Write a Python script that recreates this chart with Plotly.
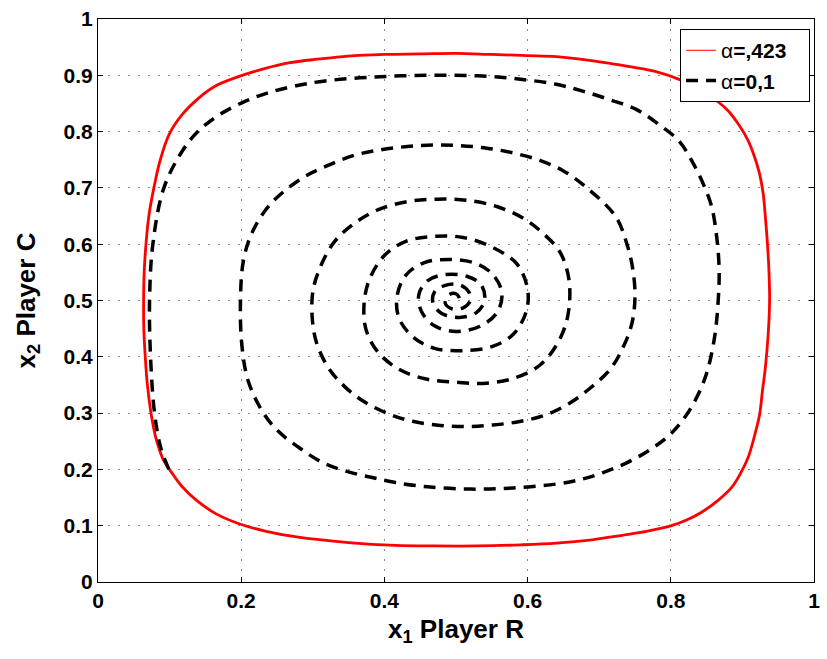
import plotly.graph_objects as go

# Red closed orbit (alpha = ,423)
red_x = [0.0637, 0.0645, 0.067, 0.071, 0.078, 0.087, 0.0997, 0.118, 0.141, 0.164, 0.197, 0.230, 0.266, 0.310,
         0.349, 0.400, 0.450, 0.500, 0.550, 0.600, 0.640, 0.710, 0.778, 0.815, 0.848, 0.866, 0.880, 0.895,
         0.908, 0.917, 0.924, 0.929, 0.932, 0.935, 0.937, 0.938, 0.936, 0.932, 0.928, 0.924, 0.917, 0.908,
         0.897, 0.885, 0.866, 0.843, 0.822, 0.801, 0.766, 0.732, 0.690, 0.640, 0.590, 0.530, 0.470, 0.4155,
         0.350, 0.277, 0.235, 0.198, 0.165, 0.1385, 0.117, 0.1015, 0.092, 0.085, 0.080, 0.074, 0.069, 0.066,
         0.064, 0.0637]
red_y = [0.500, 0.550, 0.600, 0.650, 0.700, 0.750, 0.796, 0.831, 0.860, 0.881, 0.898, 0.911, 0.922, 0.929,
         0.934, 0.937, 0.938, 0.939, 0.937, 0.935, 0.933, 0.922, 0.907, 0.891, 0.869, 0.853, 0.837, 0.812,
         0.784, 0.755, 0.725, 0.690, 0.650, 0.600, 0.555, 0.500, 0.440, 0.380, 0.340, 0.297, 0.260, 0.221,
         0.192, 0.168, 0.145, 0.124, 0.110, 0.100, 0.090, 0.083, 0.075, 0.069, 0.066, 0.064, 0.064, 0.065,
         0.070, 0.080, 0.090, 0.103, 0.121, 0.144, 0.170, 0.197, 0.215, 0.238, 0.260, 0.300, 0.350, 0.400,
         0.450, 0.500]

# Black dashed spiral (alpha = 0,1)
spiral_x = [0.099, 0.0877, 0.079, 0.0734, 0.072, 0.0766, 0.092, 0.118, 0.141, 0.171, 0.206, 0.238, 0.275, 0.317,
            0.386, 0.46, 0.53, 0.59, 0.640, 0.677, 0.714, 0.751, 0.783, 0.811, 0.829, 0.845, 0.857, 0.864,
            0.8675, 0.866, 0.8615, 0.852, 0.840, 0.822, 0.799, 0.771, 0.739, 0.7045, 0.677, 0.640, 0.58,
            0.52, 0.46, 0.4155, 0.383, 0.3486, 0.314, 0.2816, 0.2515, 0.231, 0.210, 0.201, 0.199, 0.203,
            0.215, 0.24, 0.284, 0.321, 0.358, 0.395, 0.432, 0.469, 0.506, 0.543, 0.580, 0.617, 0.649, 0.681,
            0.723, 0.739, 0.747, 0.750, 0.746, 0.7345, 0.716, 0.688, 0.658, 0.626, 0.589, 0.552, 0.515, 0.478,
            0.441, 0.409, 0.372, 0.3445, 0.321, 0.305, 0.299, 0.3006, 0.312, 0.3306, 0.358, 0.3906, 0.432,
            0.4737, 0.515, 0.557, 0.594, 0.621, 0.6445, 0.656, 0.659, 0.654, 0.640, 0.617, 0.580, 0.538,
            0.50, 0.46, 0.42, 0.39, 0.374, 0.372, 0.38, 0.40, 0.43, 0.47, 0.51, 0.55, 0.585, 0.60, 0.598,
            0.58, 0.55, 0.51, 0.47, 0.44, 0.42, 0.418, 0.43, 0.455, 0.49, 0.525, 0.55, 0.564, 0.558, 0.535,
            0.50, 0.47, 0.452, 0.448, 0.46, 0.485, 0.515, 0.535, 0.54, 0.528, 0.505, 0.48, 0.468, 0.47,
            0.485, 0.505, 0.518, 0.52, 0.51, 0.495, 0.485, 0.49, 0.5, 0.505, 0.5]
spiral_y = [0.200, 0.238, 0.30, 0.40, 0.50, 0.60, 0.70, 0.766, 0.802, 0.831, 0.854, 0.869, 0.881, 0.890,
            0.897, 0.900, 0.899, 0.893, 0.884, 0.872, 0.857, 0.840, 0.813, 0.784, 0.749, 0.708, 0.667, 0.614,
            0.555, 0.496, 0.438, 0.379, 0.338, 0.297, 0.262, 0.235, 0.212, 0.194, 0.183, 0.174, 0.167,
            0.165, 0.169, 0.1766, 0.1855, 0.196, 0.212, 0.238, 0.268, 0.300, 0.356, 0.42, 0.50, 0.57,
            0.62, 0.67, 0.7165, 0.740, 0.758, 0.7676, 0.7735, 0.776, 0.775, 0.7706, 0.762, 0.749, 0.731, 0.702,
            0.649, 0.599, 0.555, 0.508, 0.461, 0.420, 0.379, 0.345, 0.317, 0.297, 0.285, 0.279, 0.276, 0.278,
            0.285, 0.297, 0.320, 0.347, 0.382, 0.426, 0.473, 0.520, 0.564, 0.605, 0.637, 0.661, 0.6755,
            0.680, 0.678, 0.667, 0.646, 0.620, 0.5875, 0.549, 0.508, 0.461, 0.420, 0.385, 0.3615, 0.3527,
            0.355, 0.36, 0.378, 0.41, 0.45, 0.50, 0.54, 0.58, 0.605, 0.614, 0.612, 0.595, 0.565, 0.52, 0.48,
            0.44, 0.418, 0.411, 0.415, 0.435, 0.47, 0.51, 0.545, 0.567, 0.573, 0.567, 0.548, 0.515, 0.48, 0.455,
            0.445, 0.455, 0.48, 0.51, 0.535, 0.546, 0.543, 0.528, 0.50, 0.478, 0.47, 0.477, 0.495, 0.515,
            0.527, 0.528, 0.515, 0.50, 0.487, 0.485, 0.495, 0.51, 0.512, 0.502, 0.497]

x_ticks = [0, 0.2, 0.4, 0.6, 0.8, 1]
x_tick_text = ["0", "0.2", "0.4", "0.6", "0.8", "1"]
y_ticks = [0, 0.1, 0.2, 0.3, 0.4, 0.5, 0.6, 0.7, 0.8, 0.9, 1]
y_tick_text = ["0", "0.1", "0.2", "0.3", "0.4", "0.5", "0.6", "0.7", "0.8", "0.9", "1"]

legend_names = ["α<b>=,423</b>&nbsp;&nbsp;&nbsp;", "α<b>=0,1</b>&nbsp;&nbsp;&nbsp;"]

FONT = "Liberation Sans, Arial, sans-serif"

fig = go.Figure()
fig.add_trace(go.Scatter(x=red_x, y=red_y, mode="lines", showlegend=False,
                         line=dict(color="#ff0000", width=2.8, shape="spline", smoothing=1.0)))
fig.add_trace(go.Scatter(x=spiral_x, y=spiral_y, mode="lines", showlegend=False,
                         line=dict(color="black", width=3.5, dash="12px,8px", shape="spline", smoothing=1.0)))
fig.add_trace(go.Scatter(x=[None], y=[None], mode="lines", name=legend_names[0],
                         line=dict(color="#ff0000", width=1)))
fig.add_trace(go.Scatter(x=[None], y=[None], mode="lines", name=legend_names[1],
                         line=dict(color="black", width=3.5, dash="12px,8px")))

axis_common = dict(
    range=[0, 1], showline=True, linecolor="black", linewidth=1, mirror="ticks",
    ticks="inside", ticklen=5, tickcolor="black", showgrid=True, gridcolor="#8a8a8a",
    griddash="2px,8px", gridwidth=1, zeroline=False,
    tickfont=dict(family=FONT, size=21, color="black", weight="bold"),
)

fig.update_layout(
    width=827, height=659,
    margin=dict(l=98, r=7, t=14, b=77),
    paper_bgcolor="white", plot_bgcolor="white",
    font=dict(family=FONT, color="black"),
    xaxis=dict(axis_common, tickvals=x_ticks, ticktext=x_tick_text,
               title=dict(text="<b>x<sub>1</sub> Player R</b>", font=dict(family=FONT, size=26), standoff=8)),
    yaxis=dict(axis_common, tickvals=y_ticks, ticktext=y_tick_text,
               title=dict(text="<b>x<sub>2</sub> Player C</b>", font=dict(family=FONT, size=26), standoff=20)),
    legend=dict(x=0.9945, y=0.982, xanchor="right", yanchor="top", bgcolor="white",
                bordercolor="black", borderwidth=1, font=dict(family=FONT, size=21, color="black"),
                tracegroupgap=0),
    showlegend=True,
)

fig.write_html("out.html")
